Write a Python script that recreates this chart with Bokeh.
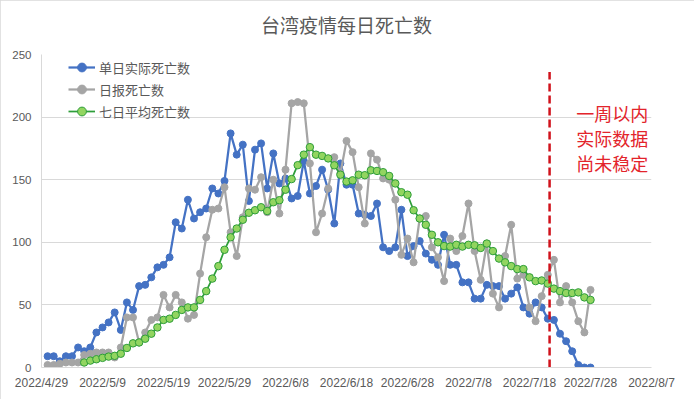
import pandas as pd
from bokeh.plotting import figure
from bokeh.models import ColumnDataSource, FixedTicker, Legend, LegendItem, Label, Range1d
from bokeh.embed import file_html
from bokeh.resources import INLINE

# ---------------- data ----------------
FIRST_DAY = "2022-04-30"          # first date of daily series
AVG_FIRST_DAY = "2022-05-06"      # first date of the 7-day average

daily_actual = [
    9, 9, 5, 9, 9, 16, 13, 16, 28, 32,
    36, 44, 30, 52, 46, 65, 66, 72, 80, 82,
    88, 116, 111, 134, 119, 124, 127, 143, 139, 149,
    187, 170, 178, 133, 174, 179, 143, 171, 147, 151,
    135, 137, 165, 139, 145, 158, 142, 115, 163, 146,
    146, 123, 122, 121, 131, 96, 93, 96, 126, 89,
    97, 101, 91, 86, 82, 106, 82, 82, 68, 68,
    55, 55, 66, 65, 65, 55, 59, 64, 48, 43,
    52, 48, 39, 38, 27, 21, 13, 2, 0, 0,
]

daily_reported = [
    2, 2, 3, 4, 4, 4, 10, 11, 12, 12,
    12, 8, 16, 40, 40, 20, 28, 38, 40, 58,
    48, 58, 52, 39, 42, 75, 104, 126, 127, 144,
    108, 89, 120, 143, 142, 152, 124, 150, 123, 158,
    211, 212, 211, 163, 108, 123, 143, 168, 155, 181,
    172, 144, 115, 171, 166, 151, 150, 134, 90, 103,
    84, 119, 121, 96, 88, 69, 103, 93, 105, 131,
    93, 70, 99, 59, 48, 89, 114, 71, 74, 48,
    37, 57, 74, 86, 52, 65, 52, 37, 28, 62,
]

avg7 = [
    4, 5.5, 6.6, 7.7, 8.7, 9.3, 11, 15.6, 19.3, 20,
    23, 27, 32, 38, 39, 42, 46, 48, 48, 54,
    61, 71, 81, 94, 104, 111, 118, 123.6, 125.6, 128,
    125, 132, 133.6, 142, 150.5, 161.6, 170, 176, 170, 169,
    167, 161.5, 154, 148.5, 149.5, 154, 153.6, 157.5, 157, 156,
    153, 147, 140, 138, 125.6, 119, 114, 106, 100, 97,
    96.6, 98, 96.6, 98, 97.6, 95.5, 99, 93, 87, 84,
    81, 78.6, 78.6, 72, 69, 69.5, 67, 63, 61, 59.5,
    59.5, 60, 56, 54,
]

tick_dates = ["2022-04-29", "2022-05-09", "2022-05-19", "2022-05-29", "2022-06-08",
              "2022-06-18", "2022-06-28", "2022-07-08", "2022-07-18", "2022-07-28",
              "2022-08-07"]
tick_labels = ["2022/4/29", "2022/5/9", "2022/5/19", "2022/5/29", "2022/6/8",
               "2022/6/18", "2022/6/28", "2022/7/8", "2022/7/18", "2022/7/28",
               "2022/8/7"]
y_ticks = [0, 50, 100, 150, 200, 250]

series_names = ["单日实际死亡数", "日报死亡数", "七日平均死亡数"]
title_text = "台湾疫情每日死亡数"
note_lines = ["一周以内", "实际数据", "尚未稳定"]
CUTOFF = "2022-07-21 07:00"   # red dashed divider
CUTOFF_TOP = 236
NOTE_X = "2022-07-31 14:00"
NOTE_Y = [203.2, 183.4, 163.6]

# ---------------- build ----------------
def ms(t):
    return int(pd.Timestamp(t).value // 10**6)

days = pd.date_range(FIRST_DAY, periods=len(daily_actual), freq="D")
avg_days = pd.date_range(AVG_FIRST_DAY, periods=len(avg7), freq="D")

src_main = ColumnDataSource(dict(d=days, actual=daily_actual, reported=daily_reported))
src_avg = ColumnDataSource(dict(d=avg_days, avg=avg7))

CJK = "Noto Sans CJK SC"
TXT = "#595959"
GRID = "#D9D9D9"

p = figure(width=694, height=399, x_axis_type="datetime",
           output_backend="svg", toolbar_location=None,
           x_range=Range1d(ms(tick_dates[0]), ms(tick_dates[-1])),
           y_range=Range1d(0, 250),
           min_border_left=41, min_border_right=43, min_border_top=52, min_border_bottom=32,
           styles={"outline": "1px solid #D9D9D9", "outline-offset": "-1px"})

p.title.text = title_text
p.title.align = "center"
p.title.text_font = CJK
p.title.text_font_size = "19px"
p.title.text_font_style = "normal"
p.title.text_color = TXT
p.title.standoff = 17
p.title.padding = dict(left=0, right=0, top=0, bottom=8)

p.outline_line_color = None
p.background_fill_color = "white"
p.border_fill_color = "white"

tick_ms = [ms(t) for t in tick_dates]
p.xaxis.ticker = FixedTicker(ticks=tick_ms)
p.xaxis.major_label_overrides = {t: l for t, l in zip(tick_ms, tick_labels)}
p.yaxis.ticker = FixedTicker(ticks=y_ticks)

for ax in (p.xaxis, p.yaxis):
    ax.axis_line_color = GRID
    ax.major_tick_line_color = None
    ax.minor_tick_line_color = None
    ax.major_tick_out = 0
    ax.major_tick_in = 0
    ax.minor_tick_out = 0
    ax.minor_tick_in = 0
    ax.major_label_text_color = TXT
    ax.major_label_text_font = "Liberation Sans"
p.xaxis.major_label_text_font_size = "12px"
p.yaxis.major_label_text_font_size = "11.5px"
p.xaxis.major_label_standoff = 8
p.yaxis.major_label_standoff = 10

p.xgrid.grid_line_color = None
p.ygrid.grid_line_color = GRID
p.ygrid.grid_line_width = 1

BLUE = "#4472C4"
GRAY = "#A5A5A5"
GREEN_LINE = "#2E9E3A"
GREEN_FILL = "#92D560"

l1 = p.line("d", "actual", source=src_main, line_color=BLUE, line_width=2.25)
s1 = p.scatter("d", "actual", source=src_main, size=7, fill_color=BLUE, line_color=BLUE)
l2 = p.line("d", "reported", source=src_main, line_color=GRAY, line_width=2.25)
s2 = p.scatter("d", "reported", source=src_main, size=7, fill_color=GRAY, line_color=GRAY)
l3 = p.line("d", "avg", source=src_avg, line_color=GREEN_LINE, line_width=1.75)
s3 = p.scatter("d", "avg", source=src_avg, size=7.5, fill_color=GREEN_FILL,
               line_color=GREEN_LINE, line_width=1)

# red dashed divider
p.segment(x0=[ms(CUTOFF)], y0=[0], x1=[ms(CUTOFF)], y1=[CUTOFF_TOP],
          line_color="#D0121B", line_width=2.5, line_dash="8 4")

for txt, yv in zip(note_lines, NOTE_Y):
    p.add_layout(Label(x=ms(NOTE_X), y=yv, text=txt, text_align="center",
                       text_baseline="middle", text_font=CJK, text_font_size="18px",
                       text_color="#E3242B"))

legend = Legend(items=[LegendItem(label=series_names[0], renderers=[l1, s1]),
                       LegendItem(label=series_names[1], renderers=[l2, s2]),
                       LegendItem(label=series_names[2], renderers=[l3, s3])],
                location=(27, 245), orientation="vertical",
                padding=0, margin=0, spacing=0,
                label_height=22, glyph_height=22, glyph_width=27, label_standoff=4,
                label_text_font=CJK, label_text_font_size="13px", label_text_color=TXT,
                border_line_color=None, background_fill_alpha=0)
p.add_layout(legend)

open("out.html", "w").write(file_html(p, INLINE))
